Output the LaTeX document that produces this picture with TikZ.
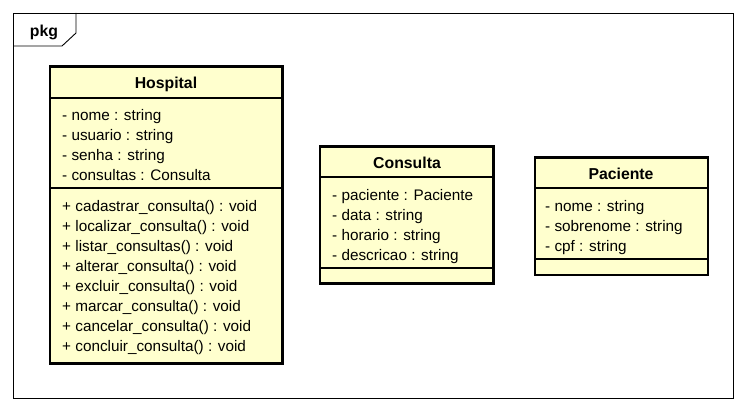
\documentclass[tikz,border=0pt]{standalone}
\usepackage{fontspec}
\setmainfont{Liberation Sans}
\usepackage{tikz}
\definecolor{umlfill}{RGB}{255,255,206}

\tikzset{
  classbox/.style={fill=umlfill,draw=black,line width=2.6pt},
  classsep/.style={draw=black,line width=1.2pt},
  member/.style={anchor=base west,inner sep=0pt,font=\fontsize{15.3}{18}\selectfont},
  classname/.style={anchor=base,inner sep=0pt,font=\bfseries\fontsize{15.8}{18}\selectfont},
}

\begin{document}
\begin{tikzpicture}[x=1pt,y=-1pt]
  \useasboundingbox (0,0) rectangle (746,412);

  % package frame
  \draw [line width=0.9pt] (13,13) rectangle (733,398);
  \draw [line width=0.9pt] (13,46) -- (62,46) -- (76,33) -- (76,13);
  \node [classname] (pkg) at (44,37) {pkg};

  % Hospital
  \draw [classbox] (50,66.5) rectangle (282.5,363.5);
  \draw [classsep] (50,98) -- (282.5,98);
  \draw [classsep] (50,188) -- (282.5,188);
  \node [classname] (hospital) at (166,88) {Hospital};
  \foreach \txt [count=\i] in {- nome : string, - usuario : string,
      - senha : string, - consultas : Consulta} {
    \node [member] (hosp-a\i) at (62,100+20*\i) {\txt};
  }
  \foreach \txt [count=\i] in {+ cadastrar\_consulta() : void,
      + localizar\_consulta() : void, + listar\_consultas() : void,
      + alterar\_consulta() : void, + excluir\_consulta() : void,
      + marcar\_consulta() : void, + cancelar\_consulta() : void,
      + concluir\_consulta() : void} {
    \node [member] (hosp-m\i) at (62,191+20*\i) {\txt};
  }

  % Consulta
  \draw [classbox] (320,146.5) rectangle (493.5,283.5);
  \draw [classsep] (320,177) -- (493.5,177);
  \draw [classsep] (320,268) -- (493.5,268);
  \node [classname] (consulta) at (407,168) {Consulta};
  \foreach \txt [count=\i] in {- paciente : Paciente, - data : string,
      - horario : string, - descricao : string} {
    \node [member] (cons-a\i) at (332,180+20*\i) {\txt};
  }

  % Paciente
  \draw [classbox] (535,157.5) rectangle (708,275);
  \draw [classsep] (535,188) -- (708,188);
  \draw [classsep] (535,259) -- (708,259);
  \node [classname] (paciente) at (621,179) {Paciente};
  \foreach \txt [count=\i] in {- nome : string, - sobrenome : string,
      - cpf : string} {
    \node [member] (pac-a\i) at (545,191+20*\i) {\txt};
  }
\end{tikzpicture}
\end{document}
